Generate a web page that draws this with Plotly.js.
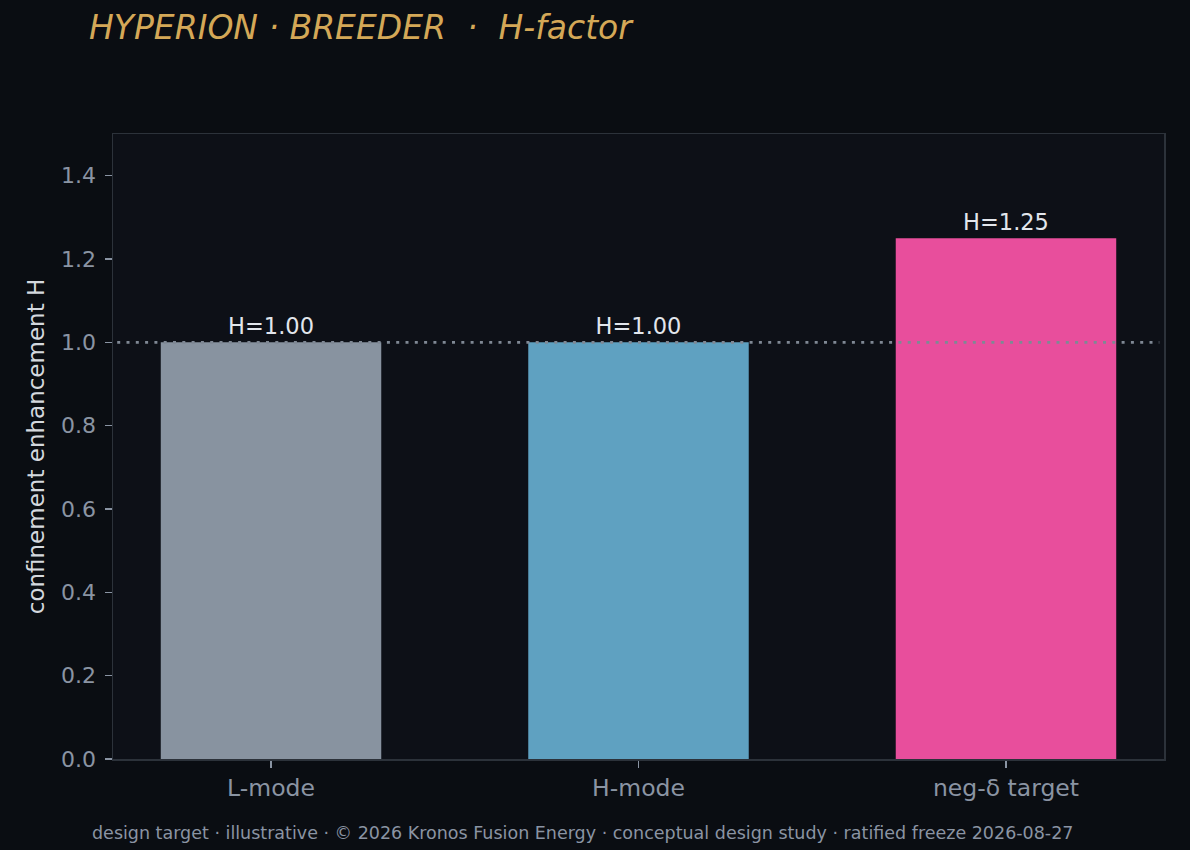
<!DOCTYPE html>
<html>
<head>
<meta charset="utf-8">
<script src="https://cdn.plot.ly/plotly-3.0.1.min.js"></script>
<style>
  html, body { margin: 0; padding: 0; background: #0a0d12; }
  #graph { width: 1190px; height: 850px; }
</style>
</head>
<body>
<div id="graph"></div>
<script>
/* ----- chart data ----- */
var modes = ['L-mode', 'H-mode', 'neg-\u03b4 target'];
var hFactor = [1.00, 1.00, 1.25];
var barColors = ['#8893a0', '#5fa1c1', '#e84e9c'];
var baseline = 1.0;

var labels = hFactor.map(function (h) { return 'H=' + h.toFixed(2); });

var bars = {
    type: 'bar',
    x: modes,
    y: hFactor,
    width: 0.6,
    marker: { color: barColors, line: { width: 0 } },
    text: labels,
    textposition: 'outside',
    cliponaxis: false,
    textfont: { family: 'DejaVu Sans', size: 22.5, color: '#e2e6ec' },
    hoverinfo: 'skip'
};

var layout = {
    width: 1190,
    height: 850,
    showlegend: false,
    paper_bgcolor: '#0a0d12',
    plot_bgcolor: '#0d1017',
    font: { family: 'DejaVu Sans', color: '#8a94a3' },
    margin: { l: 113, r: 26, t: 134, b: 91 },
    title: {
        text: '<i>HYPERION \u00b7 BREEDER  \u00b7  H-factor</i>',
        xref: 'container', x: 89 / 1190, xanchor: 'left',
        yref: 'container', y: 1 - 27 / 850, yanchor: 'middle',
        font: { family: 'DejaVu Sans', size: 33, color: '#d4a857' }
    },
    xaxis: {
        type: 'category',
        range: [-0.43, 2.43],
        showline: true, linecolor: '#2c323a', linewidth: 1.5, mirror: true,
        ticks: 'outside', ticklen: 7, tickcolor: '#8a94a3', tickwidth: 1.2,
        ticklabelstandoff: 0,
        tickfont: { size: 23.5, color: '#8a94a3' },
        showgrid: false, zeroline: false
    },
    yaxis: {
        range: [0, 1.5],
        dtick: 0.2, tickformat: '.1f',
        showline: true, linecolor: '#2c323a', linewidth: 1.5, mirror: true,
        ticks: 'outside', ticklen: 7, tickcolor: '#8a94a3', tickwidth: 1.2,
        ticklabelstandoff: 4,
        tickfont: { size: 22, color: '#8a94a3' },
        showgrid: false, zeroline: false,
        title: {
            text: 'confinement enhancement H',
            standoff: 10,
            font: { size: 23, color: '#d4d8de' }
        }
    },
    shapes: [{
        type: 'line', xref: 'paper', yref: 'y',
        x0: 0.004, x1: 0.9955, y0: baseline, y1: baseline,
        layer: 'above',
        line: { color: '#7f8894', width: 2.6, dash: '3px,6.3px' }
    }],
    annotations: [{
        text: 'design target \u00b7 illustrative \u00b7 \u00a9 2026 Kronos Fusion Energy \u00b7 conceptual design study \u00b7 ratified freeze 2026-08-27',
        xref: 'paper', yref: 'paper', x: (582 - 113) / 1051, y: -(833 - 759) / 625,
        xanchor: 'center', yanchor: 'middle', showarrow: false,
        font: { family: 'DejaVu Sans', size: 17.5, color: '#8a94a3' }
    }]
};

Plotly.newPlot('graph', [bars], layout, { displayModeBar: false, staticPlot: true });
</script>
</body>
</html>
